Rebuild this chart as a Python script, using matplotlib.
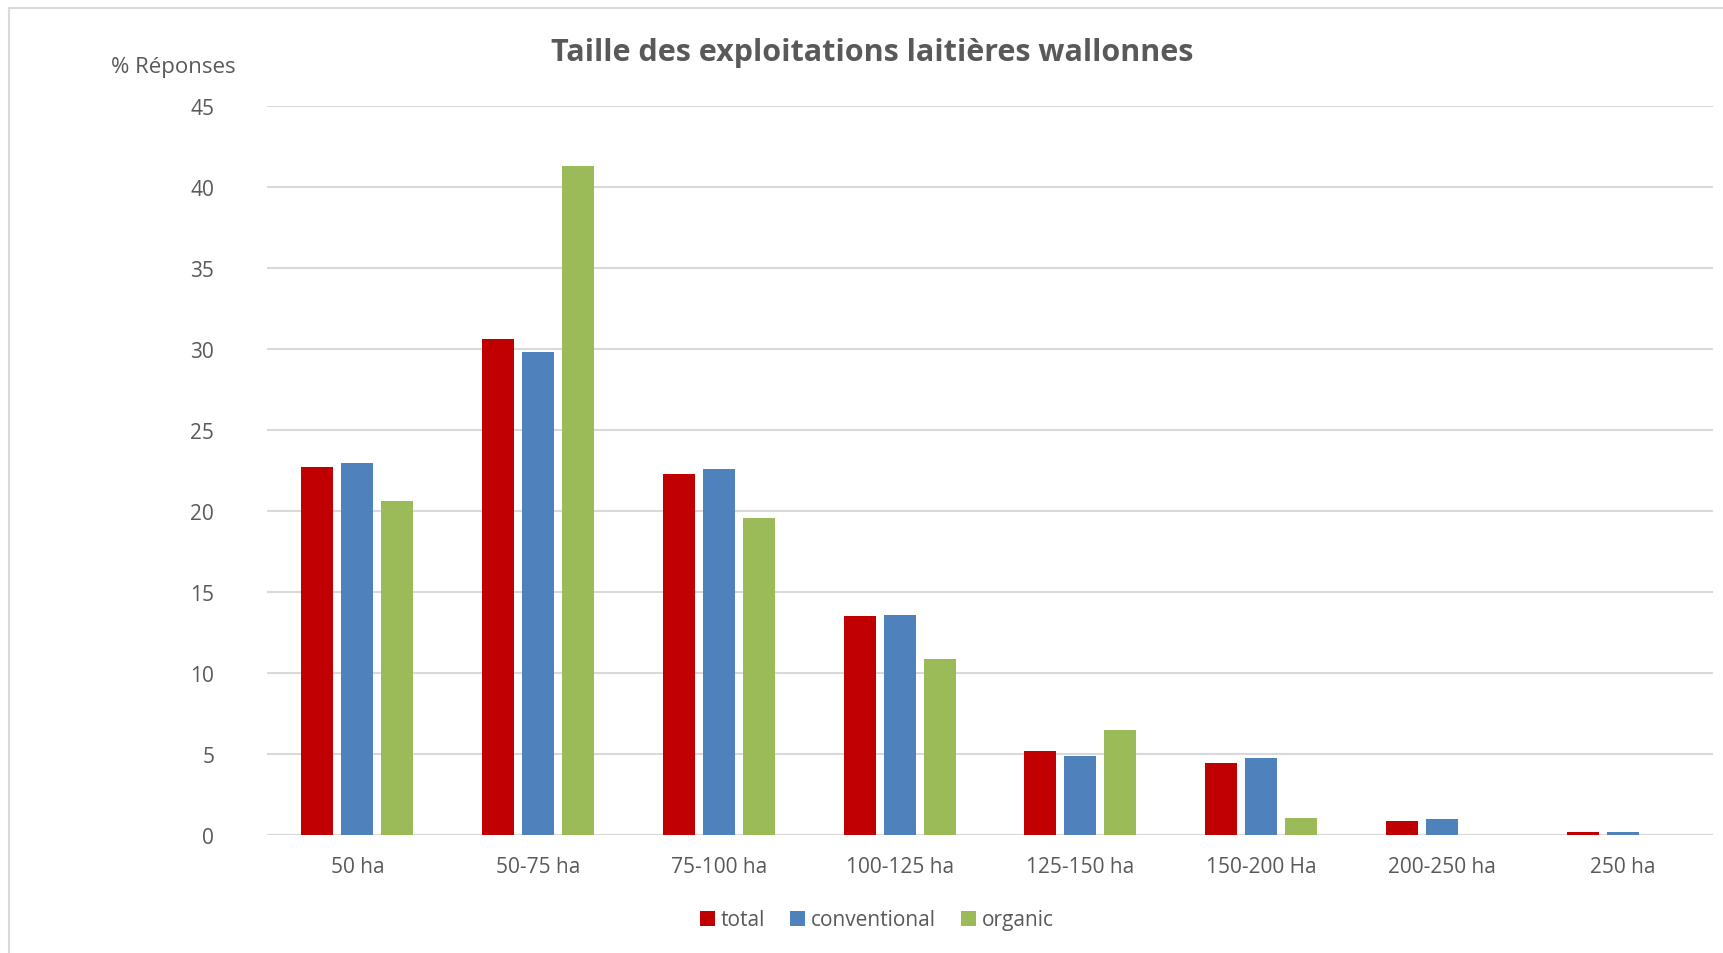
"""Taille des exploitations laitières wallonnes -- grouped bar chart (Excel look)."""
import matplotlib

matplotlib.use("Agg")
import matplotlib.pyplot as plt
from matplotlib.lines import Line2D
import numpy as np

# --- data ---
categories = ["50 ha", "50-75 ha", "75-100 ha", "100-125 ha", "125-150 ha",
              "150-200 Ha", "200-250 ha", "250 ha"]
total = [22.74, 30.62, 22.27, 13.5, 5.19, 4.46, 0.88, 0.18]
conventional = [22.95, 29.8, 22.6, 13.58, 4.9, 4.77, 0.99, 0.18]
organic = [20.64, 41.28, 19.55, 10.86, 6.5, 1.07, 0.0, 0.0]
series_names = ["total", "conventional", "organic"]
y_ticks = [0, 5, 10, 15, 20, 25, 30, 35, 40, 45]

COLORS = ["#C00000", "#4F81BD", "#9BBB59"]
TEXT = "#595959"
GRID = "#D9D9D9"
FONT = ["Open Sans", "DejaVu Sans"]

plt.rcParams["font.family"] = FONT

W, H = 1723, 954
fig = plt.figure(figsize=(W / 100, H / 100), dpi=100)
ax = fig.add_axes([267 / W, 1 - 836 / H, (1713 - 267) / W, (836 - 107) / H])

x = np.arange(len(categories))
bar_w = 0.177
step = 0.221
for i, (vals, name) in enumerate(zip([total, conventional, organic], series_names)):
    ax.bar(x + (i - 1) * step, vals, width=bar_w, color=COLORS[i], label=name,
           zorder=3)

ax.set_xlim(-0.5, len(categories) - 0.5)
ax.set_ylim(0, 45)
ax.set_yticks(y_ticks)
ax.set_xticks(x)
ax.set_xticklabels(categories)
ax.tick_params(axis="both", length=0, labelsize=15, labelcolor=TEXT)
ax.tick_params(axis="y", pad=38)
ax.tick_params(axis="x", pad=15)
ax.grid(axis="y", color=GRID, linewidth=1.5, zorder=0)
for side in ["top", "right", "left", "bottom"]:
    ax.spines[side].set_visible(False)
ax.axhline(0, color=GRID, linewidth=1.5, zorder=2)

fig.text(872 / W, 1 - 53 / H, "Taille des exploitations laitières wallonnes",
         ha="center", va="center", fontsize=22, fontweight="bold", color=TEXT)
fig.text(173 / W, 1 - 68 / H, "% Réponses", ha="center", va="center",
         fontsize=16, color=TEXT)

leg = fig.legend(loc="center", bbox_to_anchor=(877 / W, 1 - 921 / H), ncol=3,
                 frameon=False, fontsize=15, handlelength=0.7, handleheight=0.7,
                 handletextpad=0.3, columnspacing=1.2)
for t in leg.get_texts():
    t.set_color(TEXT)

# chart area border (left and top edges visible in the reference)
fig.add_artist(Line2D([8.5 / W, 8.5 / W], [0, 1 - 8.5 / H], color=GRID,
                      linewidth=1.5, transform=fig.transFigure))
fig.add_artist(Line2D([8.5 / W, 1], [1 - 8.5 / H, 1 - 8.5 / H], color=GRID,
                      linewidth=1.5, transform=fig.transFigure))

fig.savefig("out.png", dpi=100)
